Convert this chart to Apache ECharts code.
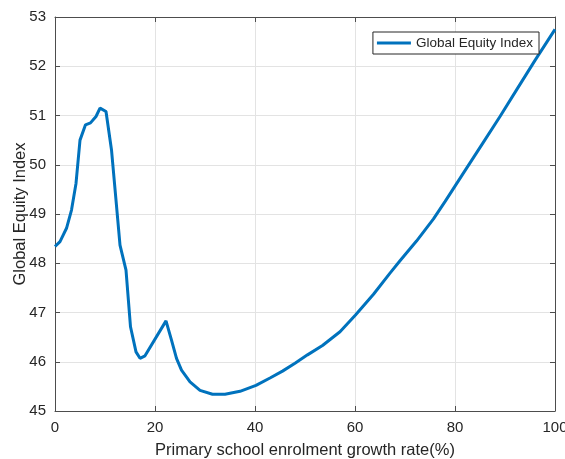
<!DOCTYPE html>
<html>
<head>
<meta charset="utf-8">
<script src="https://cdn.jsdelivr.net/npm/echarts@6/dist/echarts.min.js"></script>
<style>
html,body{margin:0;padding:0;background:#fff;}
#chart{width:565px;height:459px;}
</style>
</head>
<body>
<div id="chart"></div>
<script>
// enrolment growth rate (%)
var growthRate = [0, 1, 2.3, 3.3, 4.2, 5, 6.1, 7.1, 8.2, 9, 10.2, 11.3, 12.2, 13, 14.2, 15.1, 16.2, 17, 18,
	22.2, 23.3, 24.3, 25.3, 27, 29, 31.5, 34, 37, 40.2, 43, 45.5, 48, 50.5, 53.5, 57, 60.1, 63.7, 67, 69,
	72.3, 75.7, 78, 82, 85.5, 89, 92.5, 96, 100];
// global equity index
var equityIndex = [48.34, 48.44, 48.71, 49.08, 49.62, 50.50, 50.81, 50.85, 50.98, 51.15, 51.08, 50.3, 49.28, 48.37, 47.86, 46.71, 46.20, 46.07, 46.12,
	46.83, 46.44, 46.07, 45.83, 45.59, 45.42, 45.34, 45.34, 45.40, 45.52, 45.67, 45.81, 45.97, 46.14, 46.33, 46.61, 46.95, 47.37, 47.80, 48.05,
	48.45, 48.90, 49.25, 49.88, 50.43, 50.98, 51.55, 52.12, 52.75];

var seriesName = 'Global Equity Index';
var xTitle = 'Primary school enrolment growth rate(%)';
var yTitle = 'Global Equity Index';

var FONT = 'Liberation Sans';
var AXIS_COLOR = '#4d4d4d';
var TEXT_COLOR = '#262626';

var points = [];
for (var i = 0; i < growthRate.length; i++) {
	points.push([growthRate[i], equityIndex[i]]);
}

function boxAxis(pos, min, max, interval, isMain) {
	return {
		type: 'value',
		position: pos,
		min: min,
		max: max,
		interval: interval,
		axisLine: {show: true, onZero: false, lineStyle: {color: AXIS_COLOR, width: 1}},
		axisTick: {show: true, inside: true, length: 5, lineStyle: {color: AXIS_COLOR}},
		axisLabel: {show: isMain, color: TEXT_COLOR, fontFamily: FONT, fontSize: 15, margin: 9},
		splitLine: {show: isMain, lineStyle: {color: '#e3e3e3', width: 1}}
	};
}

var myChart = echarts.init(document.getElementById('chart'));

var xMain = boxAxis('bottom', 0, 100, 20, true);
xMain.name = xTitle;
xMain.nameLocation = 'middle';
xMain.nameGap = 31;
xMain.nameMoveOverlap = false;
xMain.nameTextStyle = {color: TEXT_COLOR, fontFamily: FONT, fontSize: 16.5};

var yMain = boxAxis('left', 45, 53, 1, true);
yMain.name = yTitle;
yMain.nameLocation = 'middle';
yMain.nameGap = 26;
yMain.nameMoveOverlap = false;
yMain.nameTextStyle = {color: TEXT_COLOR, fontFamily: FONT, fontSize: 16.5};

myChart.setOption({
	animation: false,
	backgroundColor: '#fff',
	grid: {left: 55, top: 17, right: 10, bottom: 48, containLabel: false, outerBoundsMode: 'none'},
	legend: {
		data: [seriesName],
		right: 26,
		top: 32,
		orient: 'vertical',
		backgroundColor: '#fff',
		borderColor: TEXT_COLOR,
		borderWidth: 1,
		padding: [4, 6, 4, 4],
		itemWidth: 34,
		itemHeight: 3,
		itemGap: 0,
		icon: 'rect',
		textStyle: {color: TEXT_COLOR, fontFamily: FONT, fontSize: 13.5}
	},
	xAxis: [xMain, boxAxis('top', 0, 100, 20, false)],
	yAxis: [yMain, boxAxis('right', 45, 53, 1, false)],
	series: [
		{
			name: seriesName,
			type: 'line',
			data: points,
			showSymbol: false,
			symbol: 'none',
			smooth: false,
			lineStyle: {color: '#0072BD', width: 3},
			itemStyle: {color: '#0072BD'}
		}
	]
});
</script>
</body>
</html>
